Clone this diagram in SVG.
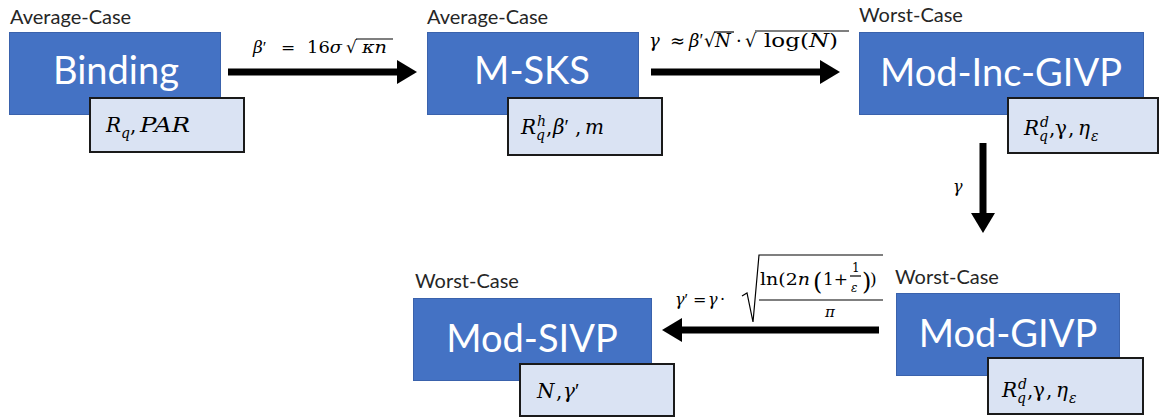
<svg xmlns="http://www.w3.org/2000/svg" width="1159" height="419" viewBox="0 0 1159 419">
<style>
.main{fill:#4472C4;stroke:#3A62AC;stroke-width:1}
.sub{fill:#DAE3F3;stroke:#1a1a1a;stroke-width:2}
.cap{font-family:Lato,"Liberation Sans",sans-serif;font-size:20px;fill:#262626}
.title{font-family:Lato,"Liberation Sans",sans-serif;font-size:38px;fill:#ffffff;text-anchor:middle}
.m{font-family:"DejaVu Serif","Liberation Serif",serif;font-style:italic;fill:#000}
.u{font-style:normal}
.p{font-family:"Liberation Serif",serif;font-style:normal}
.arr{stroke:#000;stroke-width:7;fill:none}
.rad{stroke:#000;stroke-width:1.2;fill:none}
</style>
<defs>
<marker id="ah" markerUnits="userSpaceOnUse" markerWidth="20" markerHeight="24" viewBox="0 0 20 24" refX="8" refY="12" orient="auto">
<path d="M0,0 L20,12 L0,24 z" fill="#000"/>
</marker>
</defs>
<g id="connectors">
<line class="arr" x1="228" y1="72" x2="405" y2="72" marker-end="url(#ah)"/>
<line class="arr" x1="651" y1="72" x2="828" y2="72" marker-end="url(#ah)"/>
<line class="arr" x1="983" y1="143" x2="983" y2="221" marker-end="url(#ah)"/>
<line class="arr" x1="879" y1="330" x2="674" y2="330" marker-end="url(#ah)"/>
</g>
<g id="labels">
<text class="m" font-size="17" x="253" y="53">β<tspan class="p">′</tspan></text>
<text class="m u" font-size="17" x="281" y="53">=</text>
<text class="m" font-size="17" x="307" y="53" textLength="35" lengthAdjust="spacingAndGlyphs"><tspan class="u">16</tspan>σ</text>
<text class="m u" font-size="17" x="346" y="53">√</text>
<line class="rad" x1="356" y1="39" x2="393" y2="39"/>
<text class="m" font-size="17" x="362" y="53" textLength="25" lengthAdjust="spacingAndGlyphs">κn</text>

<text class="m" font-size="18" x="649" y="47">γ</text>
<text class="m u" font-size="18" x="670" y="47">≈</text>
<text class="m" font-size="18" x="689" y="47">β<tspan class="p">′</tspan></text>
<text class="m u" font-size="18" x="704" y="47">√</text>
<line class="rad" x1="714" y1="32" x2="734" y2="32"/>
<text class="m" font-size="18" x="715" y="47">N</text>
<text class="m u" font-size="18" x="736" y="47">·</text>
<text class="m u" font-size="18" x="745" y="47">√</text>
<line class="rad" x1="755" y1="31" x2="849" y2="31"/>
<text class="m" font-size="18" x="764" y="47" textLength="74" lengthAdjust="spacingAndGlyphs"><tspan class="u">log(</tspan>N<tspan class="u">)</tspan></text>

<text class="m" font-size="16" x="953" y="192">γ</text>

<text class="m" font-size="16" x="675" y="305">γ<tspan class="p">′</tspan></text>
<text class="m u" font-size="16" x="693" y="305">=</text>
<text class="m" font-size="16" x="708" y="305">γ</text>
<text class="m u" font-size="16" x="720" y="305">·</text>
<path class="rad" d="M742,296 L747,293 L753,322 L759,255 L883,255"/>
<text class="m u" font-size="17" x="760" y="285" textLength="50" lengthAdjust="spacingAndGlyphs">ln(2<tspan class="m">n</tspan></text>
<text class="m u" font-size="24" x="813" y="290">(</text>
<text class="m u" font-size="17" x="823" y="285">1+</text>
<text class="m u" font-size="12" x="852" y="272">1</text>
<line class="rad" x1="850" y1="276" x2="861" y2="276" stroke-width="0.9"/>
<text class="m" font-size="12" x="851" y="292">ε</text>
<text class="m u" font-size="24" x="862" y="290">)</text>
<text class="m u" font-size="17" x="870" y="285">)</text>
<line class="rad" x1="759" y1="300" x2="883" y2="300"/>
<text class="m" font-size="15" x="825" y="317">π</text>
</g>
<g id="binding">
<text class="cap" x="10" y="24">Average-Case</text>
<rect class="main" x="9.5" y="32.5" width="211" height="82"/>
<text class="title" x="116" y="84">Binding</text>
<rect class="sub" x="90" y="98" width="154" height="54"/>
<text class="m" font-size="20" x="106" y="132">R</text>
<text class="m" font-size="14" x="121" y="138">q</text>
<text class="m u" font-size="20" x="130" y="132">,</text>
<text class="m" font-size="20" x="140" y="132" textLength="50" lengthAdjust="spacingAndGlyphs">PAR</text>
</g>
<g id="msks">
<text class="cap" x="427" y="24">Average-Case</text>
<rect class="main" x="427.5" y="32.5" width="211" height="82"/>
<text class="title" x="532" y="84">M-SKS</text>
<rect class="sub" x="508" y="98" width="154" height="57"/>
<text class="m" font-size="20" x="521" y="134">R</text>
<text class="m" font-size="14" x="537" y="126">h</text>
<text class="m" font-size="14" x="536" y="140">q</text>
<text class="m u" font-size="20" x="546" y="134">,</text>
<text class="m" font-size="20" x="553" y="134">β<tspan class="p">′</tspan></text>
<text class="m u" font-size="20" x="575" y="134">,</text>
<text class="m" font-size="20" x="585" y="134">m</text>
</g>
<g id="modincgivp">
<text class="cap" x="859" y="22">Worst-Case</text>
<rect class="main" x="859.5" y="32.5" width="284" height="82"/>
<text class="title" x="1001" y="86">Mod-Inc-GIVP</text>
<rect class="sub" x="1008" y="98" width="150" height="55"/>
<text class="m" font-size="20" x="1024" y="135">R</text>
<text class="m" font-size="14" x="1040" y="127">d</text>
<text class="m" font-size="14" x="1039" y="141">q</text>
<text class="m u" font-size="20" x="1049" y="135">,</text>
<text class="m u" font-size="20" x="1055" y="135">γ</text>
<text class="m u" font-size="20" x="1068" y="135">,</text>
<text class="m" font-size="20" x="1078" y="135">η</text>
<text class="m" font-size="14" x="1091" y="141">ε</text>
</g>
<g id="modgivp">
<text class="cap" x="895" y="284">Worst-Case</text>
<rect class="main" x="896.5" y="293.5" width="223" height="82"/>
<text class="title" x="1008" y="347">Mod-GIVP</text>
<rect class="sub" x="988" y="358" width="155" height="56"/>
<text class="m" font-size="20" x="1002" y="397">R</text>
<text class="m" font-size="14" x="1018" y="389">d</text>
<text class="m" font-size="14" x="1017" y="403">q</text>
<text class="m u" font-size="20" x="1027" y="397">,</text>
<text class="m u" font-size="20" x="1033" y="397">γ</text>
<text class="m u" font-size="20" x="1046" y="397">,</text>
<text class="m" font-size="20" x="1056" y="397">η</text>
<text class="m" font-size="14" x="1069" y="403">ε</text>
</g>
<g id="modsivp">
<text class="cap" x="415" y="288">Worst-Case</text>
<rect class="main" x="413.5" y="298.5" width="238" height="82"/>
<text class="title" x="532" y="352">Mod-SIVP</text>
<rect class="sub" x="520" y="364" width="154" height="52"/>
<text class="m" font-size="20" x="537" y="398">N</text>
<text class="m u" font-size="20" x="556" y="398">,</text>
<text class="m" font-size="20" x="563" y="398">γ<tspan class="p">′</tspan></text>
</g>
</svg>
